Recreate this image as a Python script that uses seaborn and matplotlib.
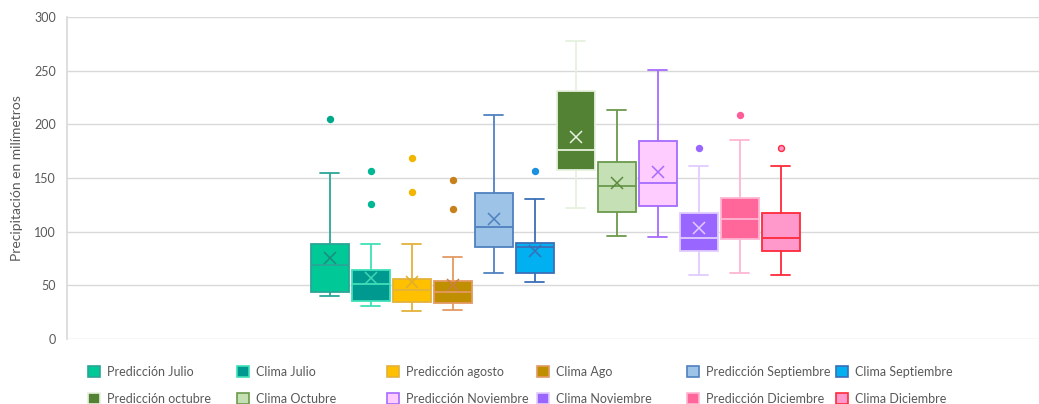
import matplotlib
matplotlib.use("Agg")
import matplotlib.pyplot as plt
from matplotlib.patches import Patch
import seaborn as sns

sns.set_theme(style="white")
plt.rcParams['font.family'] = ['Lato', 'DejaVu Sans']

# Datos por serie (mm)
pred_julio = [40.4, 41.0, 41.8, 42.5, 43.0, 43.5, 48.0, 55.0, 60.0, 65.0, 68.6,
              72.0, 76.0, 80.0, 85.0, 88.2, 90.0, 94.0, 98.7, 154.4, 204.7]
clima_julio = [30.7, 30.8, 31.5, 32.5, 34.0, 35.4, 36.0, 38.0, 41.0, 45.0, 51.2,
               52.0, 54.0, 55.7, 59.0, 64.6, 66.0, 70.0, 88.8, 126.1, 156.8]
pred_agosto = [25.8, 26.0, 27.0, 29.0, 31.0, 34.1, 34.5, 36.0, 38.0, 42.0, 45.3,
               46.0, 47.0, 48.5, 50.0, 55.9, 55.9, 55.9, 88.2, 137.0, 168.3]
clima_ago = [27.0, 27.5, 29.0, 30.5, 32.0, 33.8, 34.0, 36.0, 38.0, 40.5, 43.8,
             43.9, 44.2, 44.5, 44.6, 53.8, 53.8, 53.8, 76.7, 121.1, 147.8]
pred_sept = [61.8, 65.0, 72.0, 78.0, 83.0, 85.7, 88.0, 92.0, 97.0, 101.0, 104.6,
             108.0, 115.0, 122.0, 130.0, 136.0, 140.0, 145.0, 150.0, 158.4, 209.0]
clima_sept = [52.8, 54.0, 56.0, 58.0, 60.0, 61.8, 64.0, 70.0, 76.0, 81.0, 85.4,
              86.0, 87.0, 88.0, 89.0, 89.7, 89.9, 90.0, 90.2, 130.4, 156.5]
pred_oct = [122.1, 130.0, 140.0, 148.0, 154.0, 157.1, 160.0, 164.0, 168.0, 172.0, 176.1,
            185.0, 198.0, 210.0, 222.0, 230.7, 233.0, 235.0, 237.0, 239.2, 277.3]
clima_oct = [95.7, 100.0, 106.0, 111.0, 115.0, 118.7, 124.0, 130.0, 135.0, 139.0, 142.9,
             146.0, 150.0, 155.0, 160.0, 164.6, 170.0, 178.0, 191.0, 200.0, 213.1]
pred_nov = [95.0, 100.0, 108.0, 115.0, 120.0, 124.2, 128.0, 133.0, 138.0, 142.0, 145.0,
            152.0, 160.0, 168.0, 176.0, 184.8, 190.0, 200.0, 210.0, 219.9, 250.3]
clima_nov = [59.6, 65.0, 70.0, 75.0, 79.0, 82.0, 84.0, 87.0, 90.0, 92.0, 93.8,
             97.0, 102.0, 107.0, 112.0, 117.4, 125.0, 136.0, 150.3, 160.9, 178.0]
pred_dic = [61.8, 70.0, 78.0, 85.0, 90.0, 93.2, 97.0, 101.0, 105.0, 109.0, 111.8,
            115.0, 119.0, 124.0, 128.0, 131.7, 140.0, 152.0, 165.0, 185.4, 208.4]
clima_dic = [59.6, 65.0, 70.0, 75.0, 79.0, 82.0, 84.0, 87.0, 90.0, 92.0, 93.8,
             97.0, 102.0, 107.0, 112.0, 117.4, 125.0, 136.0, 150.3, 160.9, 178.0]

series = ['Predicción Julio', 'Clima Julio', 'Predicción agosto', 'Clima Ago',
          'Predicción Septiembre', 'Clima Septiembre', 'Predicción octubre', 'Clima Octubre',
          'Predicción Noviembre', 'Clima Noviembre', 'Predicción Diciembre', 'Clima Diciembre']
valores = [pred_julio, clima_julio, pred_agosto, clima_ago, pred_sept, clima_sept,
           pred_oct, clima_oct, pred_nov, clima_nov, pred_dic, clima_dic]

# estilo: relleno, borde, color de la media / puntos
rellenos = ['#00C896', '#00998F', '#FFC000', '#BF8F00', '#9DC3E6', '#00B0F0',
            '#548235', '#C5E0B4', '#FFCCFF', '#9966FF', '#FF6699', '#FF99CC']
bordes = ['#2BA596', '#3FE0B8', '#E3B23C', '#E39A62', '#4F81C0', '#3A6FB8',
          '#E6F1DE', '#6B9A4C', '#A66BFF', '#E2CCFF', '#FFB5D3', '#FF2A3A']
medias_col = ['#1C8C7E', '#3FD8B2', '#E0AE2C', '#D07E40', '#4F81C0', '#3A6FB8',
              '#E6F1DE', '#5C8A40', '#A66BFF', '#E2CCFF', '#FF6699', '#FF99CC']
puntos_col = ['#00A88A', '#00B894', '#F2B600', '#C8801A', '#4F81C0', '#1A90E0',
              '#548235', '#6B9A4C', '#A66BFF', '#9966FF', '#FF5C9A', '#FF99CC']
puntos_borde = ['#00A88A', '#00B894', '#F2B600', '#C8801A', '#4F81C0', '#1A90E0',
                '#548235', '#6B9A4C', '#A66BFF', '#9966FF', '#FF5C9A', '#FF2A3A']
mostrar_media = [True] * 10 + [False, False]

fig = plt.figure(figsize=(10.39, 4.04), dpi=100)
ax = fig.add_axes([67 / 1039, 65 / 404, 1 - 67 / 1039, 322 / 404])

for i, nombre in enumerate(series):
    sns.boxplot(x=[nombre] * len(valores[i]), y=valores[i], order=series,
                color=rellenos[i], linecolor=bordes[i], saturation=1,
                width=0.93, linewidth=1.3, showmeans=mostrar_media[i],
                meanprops=dict(marker='x', markeredgecolor=medias_col[i],
                               markersize=9, markeredgewidth=1.1),
                flierprops=dict(marker='o', markerfacecolor=puntos_col[i],
                                markeredgecolor=puntos_borde[i], markersize=4.3,
                                markeredgewidth=1.0),
                ax=ax)

ax.set_xlim(-6.41, 17.3)
ax.set_ylim(0, 300)
ax.set_yticks(range(0, 301, 50))
ax.set_xticks([])
ax.set_xlabel('')
ax.yaxis.grid(True, color='#D9D9D9', linewidth=1)
ax.set_axisbelow(True)
for lado in ['top', 'right', 'bottom']:
    ax.spines[lado].set_visible(False)
ax.spines['left'].set_color('#D9D9D9')
ax.tick_params(axis='y', colors='#595959', labelsize=9, length=0, pad=8)
ax.set_ylabel('Precipitación en milímetros', color='#595959', fontsize=10, labelpad=8)

# leyenda en 6 columnas de ancho fijo
col_x = [88, 237, 387, 537, 687, 836]
for c in range(6):
    hs = []
    for j in (c, c + 6):
        hs.append(Patch(facecolor=rellenos[j], edgecolor=bordes[j], linewidth=1.2,
                        label=series[j]))
    fig.legend(handles=hs, loc='upper left', bbox_to_anchor=(col_x[c] / 1039, 1 - 366 / 404),
               frameon=False, fontsize=9, handlelength=0.95, handleheight=0.95,
               handletextpad=0.6, labelspacing=1.2, borderpad=0, borderaxespad=0,
               labelcolor='#595959')

fig.savefig('out.png', dpi=100)
